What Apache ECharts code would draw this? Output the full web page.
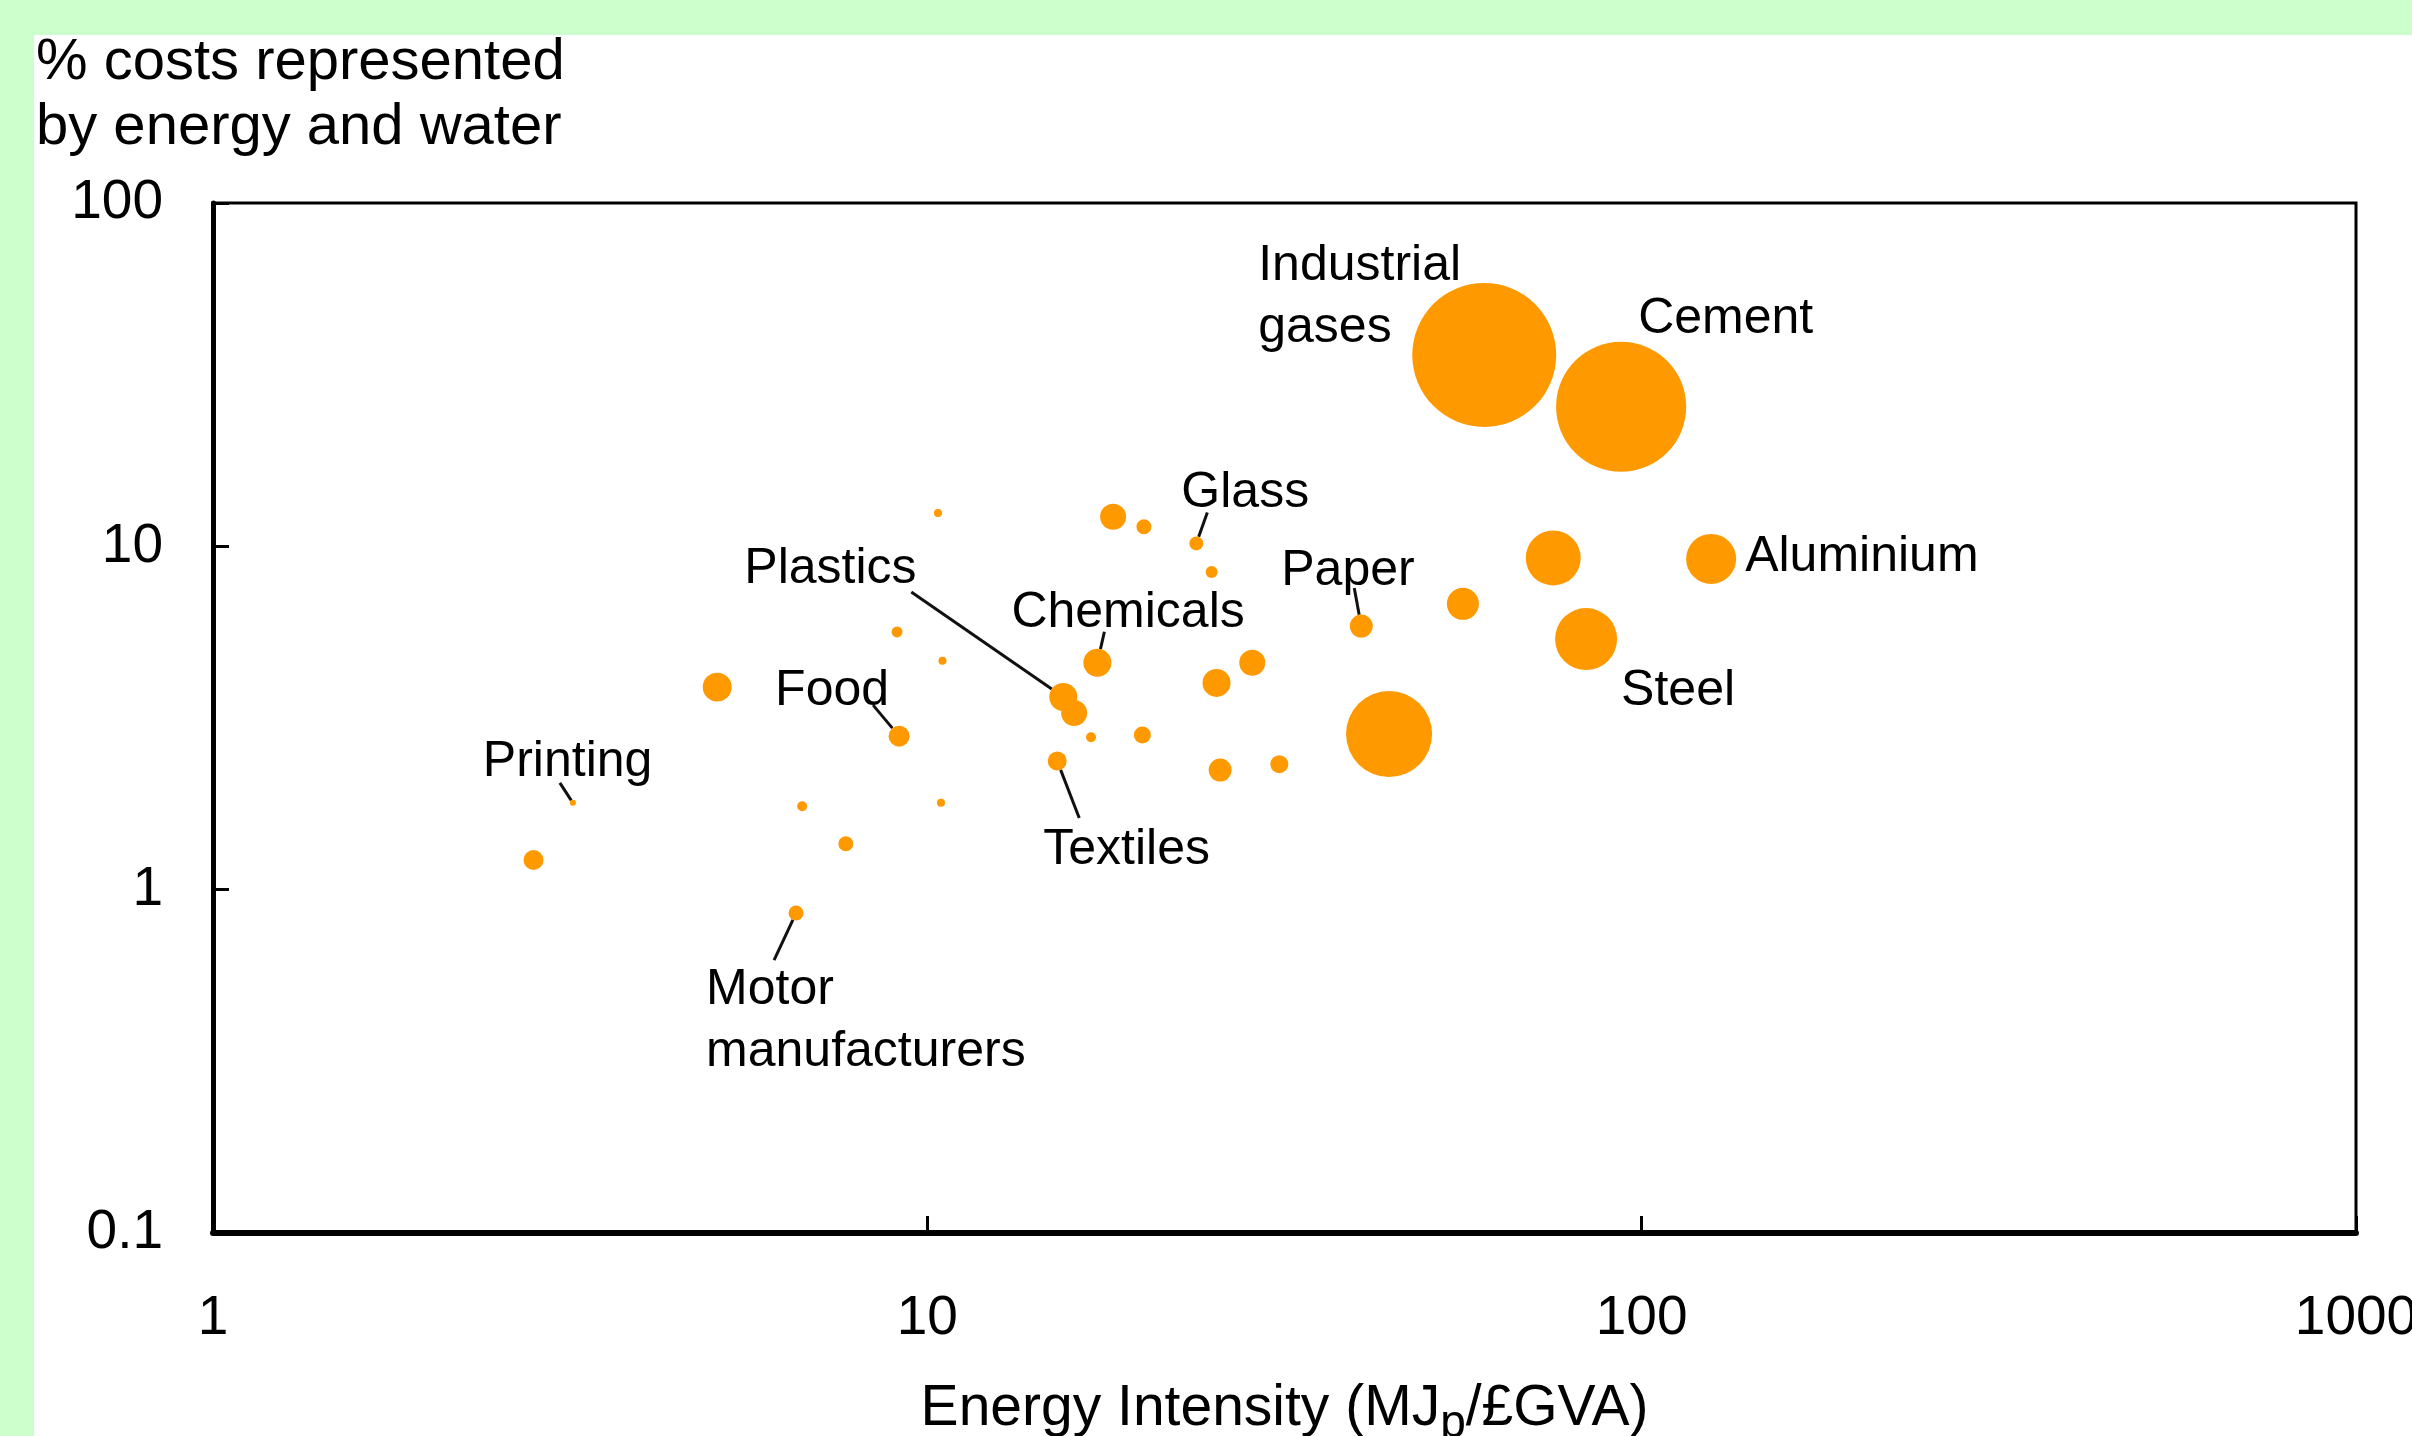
<!DOCTYPE html>
<html>
<head>
<meta charset="utf-8">
<script src="https://cdn.jsdelivr.net/npm/echarts@6/dist/echarts.min.js"></script>
<style>
html,body{margin:0;padding:0;background:#fff;}
#chart{width:2412px;height:1436px;}
</style>
</head>
<body>
<div id="chart"></div>
<script>
// ---- data ----
const sectorNames = ['', '', '', 'Glass', '', 'Paper', '', '', 'Chemicals', '', '', '', 'Plastics', '', 'Food', '', '', 'Textiles', '', '', '', '', '', 'Printing', '', 'Motor\nmanufacturers', '', 'Industrial\ngases', 'Cement', '', 'Aluminium', '', 'Steel'];
const energyIntensity = [10.35, 18.2, 20.1, 23.8, 25.0, 40.5, 9.07, 10.5, 17.3, 28.5, 25.4, 5.08, 15.5, 16.05, 9.13, 16.95, 20.0, 15.2, 25.7, 31.1, 6.68, 10.45, 7.69, 3.19, 2.81, 6.55, 44.3, 60.2, 93.6, 75.2, 125.1, 56.2, 83.6];
const costShare = [12.5, 12.2, 11.4, 10.2, 8.42, 5.86, 5.63, 4.64, 4.58, 4.58, 4.00, 3.89, 3.64, 3.27, 2.80, 2.78, 2.82, 2.37, 2.23, 2.32, 1.75, 1.79, 1.36, 1.79, 1.22, 0.855, 2.84, 36.1, 25.5, 9.25, 9.19, 6.80, 5.37];
const bubbleWeight = [0.16, 1.69, 0.56, 0.49, 0.36, 1.32, 0.30, 0.16, 1.96, 1.69, 1.96, 2.10, 1.96, 1.69, 1.10, 0.25, 0.72, 0.90, 1.32, 0.81, 0.25, 0.16, 0.56, 0.09, 1.00, 0.56, 18.5, 51.8, 42.3, 7.56, 6.25, 2.56, 9.61];
const yTicks = [0.1, 1, 10, 100];
const xTicks = [1, 10, 100, 1000];

// ---- label placement (style): [dx, dy of label left/middle, leader anchor dx, dy] ----
const labelOffsets = {
  'Glass': [-15, -50, 11, -31],
  'Plastics': [-319, -128, -152, -105],
  'Chemicals': [-86, -50, 7, -31],
  'Paper': [-80, -55, -7, -38],
  'Food': [-124, -45, -26, -31],
  'Printing': [-90, -41, -13, -20],
  'Textiles': [-14, 89, 22, 57],
  'Motor\nmanufacturers': [-90, 108, -22, 47],
  'Industrial\ngases': [-226, -58],
  'Cement': [17, -88],
  'Aluminium': [34, -2],
  'Steel': [35, 52]
};

const FONT = '"Liberation Sans", Arial, Helvetica, sans-serif';
const ORANGE = '#FF9900';

const seriesData = energyIntensity.map((x, i) => {
  const name = sectorNames[i];
  const item = { value: [x, costShare[i], bubbleWeight[i]], name: name };
  if (name) item.label = { show: true };
  return item;
});
const sizeOf = w => 20 * Math.sqrt(w);

const chart = echarts.init(document.getElementById('chart'));
chart.setOption({
  animation: false,
  backgroundColor: '#ffffff',
  textStyle: { fontFamily: FONT },
  graphic: [
    { type: 'rect', left: 0, top: 0, z: -10, shape: { width: 2412, height: 35 }, style: { fill: '#CCFFCC' }, silent: true },
    { type: 'rect', left: 0, top: 0, z: -10, shape: { width: 34, height: 1436 }, style: { fill: '#CCFFCC' }, silent: true }
  ],
  title: {
    text: '% costs represented\nby energy and water',
    left: 36, top: 30, padding: 0,
    textStyle: { fontFamily: FONT, fontSize: 58, lineHeight: 65, fontWeight: 'normal', color: '#000' }
  },
  grid: {
    left: 213, right: 56, top: 203, bottom: 203,
    outerBoundsMode: 'none', containLabel: false,
    show: true, borderColor: '#000', borderWidth: 3, backgroundColor: '#fff'
  },
  xAxis: {
    type: 'log', logBase: 10, min: xTicks[0], max: xTicks[xTicks.length - 1],
    name: '{a|Energy Intensity (MJ}{s|p}{a|/£GVA)}',
    nameLocation: 'middle', nameGap: 138,
    nameTextStyle: {
      color: '#000', fontFamily: FONT, fontSize: 57,
      rich: {
        a: { fontSize: 57, fontFamily: FONT, color: '#000' },
        s: { fontSize: 46, fontFamily: FONT, color: '#000', padding: [30, 0, 0, 0] }
      }
    },
    axisLine: { show: true, lineStyle: { color: '#000', width: 6 } },
    axisTick: { show: true, inside: true, length: 17, lineStyle: { color: '#000', width: 3 } },
    axisLabel: { color: '#000', fontSize: 55, fontFamily: FONT, margin: 58, formatter: v => String(v) },
    splitLine: { show: false },
    minorTick: { show: false }
  },
  yAxis: {
    type: 'log', logBase: 10, min: yTicks[0], max: yTicks[yTicks.length - 1],
    axisLine: { show: true, lineStyle: { color: '#000', width: 5 } },
    axisTick: { show: true, inside: true, length: 16, lineStyle: { color: '#000', width: 3 } },
    axisLabel: { color: '#000', fontSize: 55, fontFamily: FONT, margin: 50, formatter: v => String(+v.toPrecision(3)) },
    splitLine: { show: false }
  },
  series: [{
    type: 'custom',
    data: energyIntensity.map((x, i) => [x, costShare[i], bubbleWeight[i]]),
    silent: true,
    z: 1,
    renderItem: function (params, api) {
      const off = labelOffsets[sectorNames[params.dataIndex]];
      if (!off || off.length < 4) return null;
      const c = api.coord([api.value(0), api.value(1)]);
      const r = sizeOf(api.value(2)) / 2;
      const d = Math.hypot(off[2], off[3]);
      return {
        type: 'line',
        shape: { x1: c[0] + off[2], y1: c[1] + off[3], x2: c[0] + off[2] / d * r, y2: c[1] + off[3] / d * r },
        style: { stroke: '#111', lineWidth: 3 }
      };
    }
  }, {
    type: 'scatter',
    data: seriesData,
    z: 2,
    symbol: 'circle',
    symbolSize: v => sizeOf(v[2]),
    itemStyle: { color: ORANGE, opacity: 1 },
    emphasis: { disabled: true },
    label: {
      show: false,
      formatter: p => p.name,
      color: '#000', fontFamily: FONT, fontSize: 50, lineHeight: 62, align: 'left'
    },
    labelLayout: function (params) {
      const name = sectorNames[params.dataIndex];
      if (!name) return {};
      const off = labelOffsets[name];
      const cx = params.rect.x + params.rect.width / 2;
      const cy = params.rect.y + params.rect.height / 2;
      return { x: cx + off[0], y: cy + off[1], align: 'left', verticalAlign: 'middle' };
    }
  }]
});
</script>
</body>
</html>
